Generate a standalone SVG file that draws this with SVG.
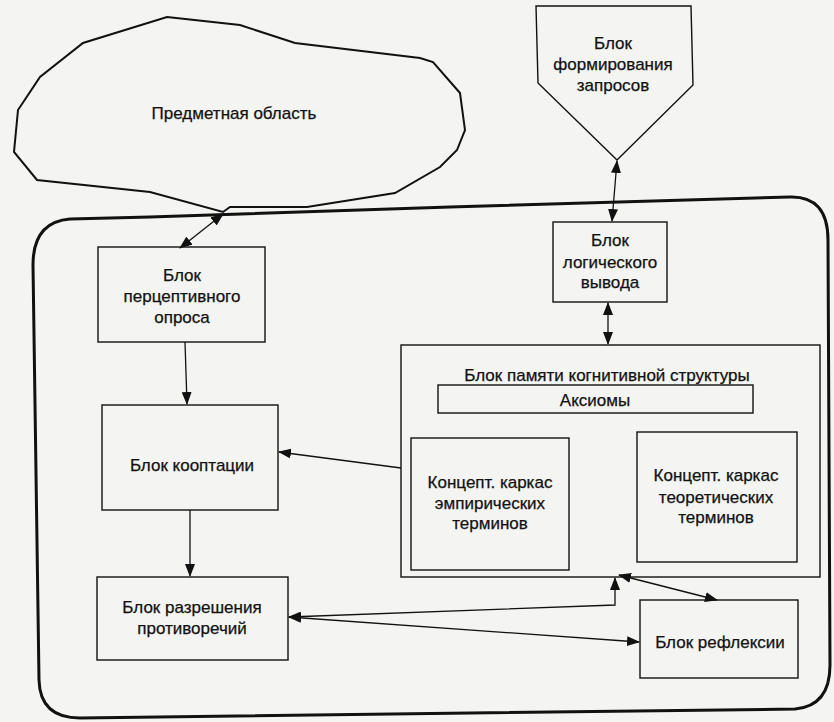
<svg xmlns="http://www.w3.org/2000/svg" width="834" height="722" viewBox="0 0 834 722">
<defs>
<style>
.bx{fill:none;stroke:#111;stroke-width:1.4}
.t{font-family:"Liberation Sans",Arial,sans-serif;font-size:17px;fill:#111;stroke:#111;stroke-width:0.25;text-anchor:middle}
.c{fill:none;stroke:#111;stroke-width:1.3}
</style>
<marker id="ah" viewBox="0 0 13 10" refX="12" refY="5" markerWidth="13" markerHeight="10" markerUnits="userSpaceOnUse" orient="auto-start-reverse">
<path d="M0,0 L13,5 L0,10 Z" fill="#111"/>
</marker>
</defs>
<rect x="0" y="0" width="834" height="722" fill="#f4f4f2"/>
<g id="cloud">
<path d="M167,17 L240,25 L295,43 L420,58 L433,62 L460,93 L465,130 L457,150 L440,167 L395,193 L307,207 L230,207 L223,212 L150,192 L37,180 L14,152 L18,110 L40,77 L83,43 Z" fill="none" stroke="#111" stroke-width="2"/>
<text class="t" x="234" y="119">Предметная область</text>
</g>
<g id="frame">
<path d="M70,219 L150,217 L450,207 L790,197 Q828,196 828,240 L830,665 Q830,706 795,709 L80,718 Q40,718 39,680 L33,265 Q33,222 70,219 Z" fill="none" stroke="#111" stroke-width="3"/>
</g>
<g id="zaprosy">
<path d="M536,6 L691,6 L693,85 L617,160 L538,83 Z" class="bx"/>
<text class="t" x="613" y="49">Блок</text>
<text class="t" x="613" y="70">формирования</text>
<text class="t" x="613" y="91">запросов</text>
</g>
<g id="logic">
<rect x="553" y="222" width="114" height="80" class="bx"/>
<text class="t" x="610" y="246">Блок</text>
<text class="t" x="610" y="268">логического</text>
<text class="t" x="610" y="288">вывода</text>
</g>
<g id="memory">
<rect x="401" y="345" width="419" height="232" class="bx"/>
<text class="t" x="607" y="381">Блок памяти когнитивной структуры</text>
</g>
<g id="axioms">
<rect x="438" y="385" width="315" height="28" class="bx"/>
<text class="t" x="595" y="406">Аксиомы</text>
</g>
<g id="empiric">
<rect x="411" y="438" width="158" height="132" class="bx"/>
<text class="t" x="490" y="488">Концепт. каркас</text>
<text class="t" x="490" y="509">эмпирических</text>
<text class="t" x="490" y="529">терминов</text>
</g>
<g id="theor">
<rect x="637" y="432" width="160" height="130" class="bx"/>
<text class="t" x="716" y="481">Концепт. каркас</text>
<text class="t" x="716" y="503">теоретических</text>
<text class="t" x="716" y="523">терминов</text>
</g>
<g id="percept">
<rect x="98" y="247" width="167" height="95" class="bx"/>
<text class="t" x="182" y="281">Блок</text>
<text class="t" x="182" y="302">перцептивного</text>
<text class="t" x="182" y="323">опроса</text>
</g>
<g id="cooptation">
<rect x="102" y="405" width="176" height="105" class="bx"/>
<text class="t" x="192" y="471">Блок кооптации</text>
</g>
<g id="resolution">
<rect x="97" y="577" width="191" height="83" class="bx"/>
<text class="t" x="192" y="613">Блок разрешения</text>
<text class="t" x="192" y="634">противоречий</text>
</g>
<g id="reflexion">
<rect x="640" y="600" width="158" height="78" class="bx"/>
<text class="t" x="720" y="648">Блок рефлексии</text>
</g>
<g id="connectors">
<path d="M223,214 L180,248" class="c" marker-start="url(#ah)" marker-end="url(#ah)"/>
<path d="M617,161 L612,221" class="c" marker-start="url(#ah)" marker-end="url(#ah)"/>
<path d="M608,303 L608,344" class="c" marker-start="url(#ah)" marker-end="url(#ah)"/>
<path d="M185,342 L187,404" class="c" marker-end="url(#ah)"/>
<path d="M401,468 L279,452" class="c" marker-end="url(#ah)"/>
<path d="M190,510 L190,576" class="c" marker-end="url(#ah)"/>
<path d="M289,617 L615,605 L615,578" class="c" marker-start="url(#ah)" marker-end="url(#ah)"/>
<path d="M289,617 L639,642" class="c" marker-start="url(#ah)" marker-end="url(#ah)"/>
<path d="M619,575 L717,600" class="c" marker-start="url(#ah)" marker-end="url(#ah)"/>
</g>
</svg>
